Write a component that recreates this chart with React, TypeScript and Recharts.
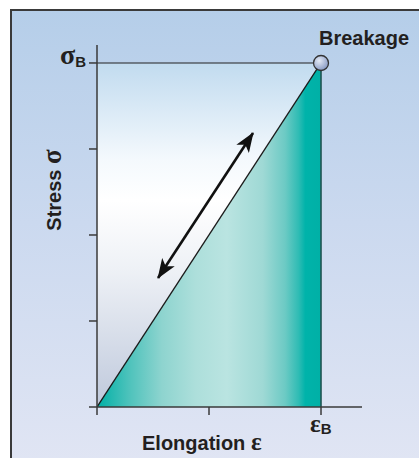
import React from 'react';
import { ComposedChart, Area, Line, XAxis, YAxis, ReferenceLine, ReferenceDot, Label } from 'recharts';

// ---- data ----
const strainTicks = [0, 1, 2];
const stressTicks = [0, 1, 2, 3, 4];
const strainDomain: [number, number] = [0, 2.366];
const stressDomain: [number, number] = [0, 4.209];
const curveStrain = [0, 2];
const curveStress = [0, 4];
const limitStress = [4, 4];
const arrowStrain = [0.545, 1.393];
const arrowStress = [1.5, 3.186];
const breakStrain = 2;
const breakStress = 4;

const curveData = curveStrain.map((x, i) => ({ x, y: curveStress[i] }));
const limitData = curveStrain.map((x, i) => ({ x, y: limitStress[i] }));
const arrowData = arrowStrain.map((x, i) => ({ x, y: arrowStress[i] }));

const SANS = '"Liberation Sans", Arial, Helvetica, sans-serif';
const SERIF = '"Liberation Serif", "Times New Roman", serif';
const INK = '#231f20';

const YTick = (props: any) => {
  const { x, y, payload } = props;
  if (payload.value !== breakStress) return <g />;
  return (
    <text x={x - 1} y={y + 1} textAnchor="end" fill={INK} fontWeight="bold">
      <tspan fontFamily={SERIF} fontSize={28}>σ</tspan>
      <tspan fontFamily={SANS} fontSize={15} dy={3}>B</tspan>
    </text>
  );
};

const XTick = (props: any) => {
  const { x, y, payload } = props;
  if (payload.value !== breakStrain) return <g />;
  return (
    <text x={x - 11} y={y + 15} textAnchor="start" fill={INK} fontWeight="bold">
      <tspan fontFamily={SERIF} fontSize={25}>ε</tspan>
      <tspan fontFamily={SANS} fontSize={15} dy={2}>B</tspan>
    </text>
  );
};

const XLabel = (props: any) => {
  const vb = props.viewBox;
  return (
    <text x={vb.x + 45} y={vb.y + 43} fill={INK} fontWeight="bold" fontFamily={SANS} fontSize={20}>
      Elongation <tspan fontFamily={SERIF} fontSize={25}>ε</tspan>
    </text>
  );
};

const YLabel = (props: any) => {
  const vb = props.viewBox;
  const cx = vb.x + 24;
  const cy = vb.y + 145;
  return (
    <text x={cx} y={cy} transform={`rotate(-90, ${cx}, ${cy})`} textAnchor="middle" fill={INK} fontWeight="bold" fontFamily={SANS} fontSize={20}>
      Stress <tspan fontFamily={SERIF} fontSize={27}>σ</tspan>
    </text>
  );
};

const BreakLabel = (props: any) => {
  const vb = props.viewBox;
  const cx = vb.x + vb.width / 2;
  const cy = vb.y + vb.height / 2;
  return (
    <text x={cx - 2} y={cy - 18} fill={INK} fontWeight="bold" fontFamily={SANS} fontSize={20}>
      Breakage
    </text>
  );
};

export default function App() {
  return (
    <div style={{ position: 'absolute', left: 0, top: 0, width: 419, height: 458, overflow: 'hidden', background: '#fff' }}>
      <div
        style={{
          position: 'absolute',
          left: 10,
          top: 9,
          width: 430,
          height: 470,
          borderLeft: '2px solid #3a3a3a',
          borderTop: '2px solid #3a3a3a',
          background: 'linear-gradient(to bottom, #b5cee9 0%, #cbd9ef 45%, #e2e6f4 100%)',
        }}
      />
      <div style={{ position: 'absolute', left: 0, top: 0 }}>
        <ComposedChart width={419} height={458} margin={{ top: 45, right: 57, bottom: 21, left: 37 }}>
          <defs>
            <linearGradient id="bgGrad" x1="0" y1="0" x2="0" y2="1">
              <stop offset="0" stopColor="#c1dbef" />
              <stop offset="0.28" stopColor="#f4f9fd" />
              <stop offset="0.4" stopColor="#ffffff" />
              <stop offset="0.6" stopColor="#eef1f6" />
              <stop offset="1" stopColor="#bfc9dc" />
            </linearGradient>
            <linearGradient id="tealGrad" x1="0" y1="0" x2="1" y2="0">
              <stop offset="0" stopColor="#00b0a6" />
              <stop offset="0.14" stopColor="#4cc2bb" />
              <stop offset="0.29" stopColor="#8ed4cf" />
              <stop offset="0.44" stopColor="#addfdb" />
              <stop offset="0.58" stopColor="#bae4e1" />
              <stop offset="0.74" stopColor="#9fd9d5" />
              <stop offset="0.84" stopColor="#6ccac4" />
              <stop offset="0.9" stopColor="#2fbcb4" />
              <stop offset="0.93" stopColor="#00b3aa" />
              <stop offset="1" stopColor="#00b0a6" />
            </linearGradient>
            <radialGradient id="dotGrad" cx="0.38" cy="0.35" r="0.7">
              <stop offset="0" stopColor="#e4eaf5" />
              <stop offset="1" stopColor="#8497c2" />
            </radialGradient>
            <marker id="arrowHead" viewBox="0 0 20 15" refX="19" refY="7.5" markerWidth="20" markerHeight="15" markerUnits="userSpaceOnUse" orient="auto-start-reverse">
              <path d="M0,0 L20,7.5 L0,15 L5,7.5 Z" fill="#111" />
            </marker>
          </defs>
          <XAxis
            type="number"
            dataKey="x"
            domain={strainDomain}
            ticks={strainTicks}
            allowDataOverflow
            height={30}
            tickSize={8}
            tick={<XTick />}
            axisLine={{ stroke: '#3a3a3a', strokeWidth: 1.5 }}
            tickLine={{ stroke: '#3a3a3a', strokeWidth: 1.5 }}
            interval={0}
          >
            <Label content={<XLabel />} />
          </XAxis>
          <YAxis
            type="number"
            dataKey="y"
            domain={stressDomain}
            ticks={stressTicks}
            allowDataOverflow
            width={60}
            tickSize={8}
            tick={<YTick />}
            axisLine={{ stroke: '#3a3a3a', strokeWidth: 1.5 }}
            tickLine={{ stroke: '#3a3a3a', strokeWidth: 1.5 }}
            interval={0}
          >
            <Label content={<YLabel />} />
          </YAxis>
          <Area
            data={limitData}
            dataKey="y"
            type="linear"
            fill="url(#bgGrad)"
            fillOpacity={1}
            stroke="#222"
            strokeWidth={1.2}
            dot={false}
            activeDot={false}
            isAnimationActive={false}
          />
          <Area
            data={curveData}
            dataKey="y"
            type="linear"
            fill="url(#tealGrad)"
            fillOpacity={1}
            stroke="#1a1a1a"
            strokeWidth={1.3}
            dot={false}
            activeDot={false}
            isAnimationActive={false}
          />
          <ReferenceLine
            segment={[{ x: breakStrain, y: 0 }, { x: breakStrain, y: breakStress }]}
            stroke="#1f5451"
            strokeWidth={1.6}
          />
          <Line
            data={arrowData}
            dataKey="y"
            type="linear"
            stroke="#111"
            strokeWidth={2.6}
            dot={false}
            activeDot={false}
            markerStart="url(#arrowHead)"
            markerEnd="url(#arrowHead)"
            isAnimationActive={false}
          />
          <ReferenceDot
            x={breakStrain}
            y={breakStress}
            r={7.5}
            fill="url(#dotGrad)"
            stroke="#333"
            strokeWidth={1.3}
            label={<BreakLabel />}
          />
        </ComposedChart>
      </div>
    </div>
  );
}
